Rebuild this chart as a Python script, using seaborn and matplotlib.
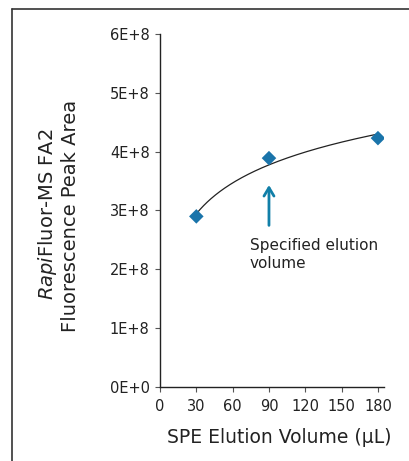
import numpy as np
import pandas as pd
import seaborn as sns
import matplotlib
matplotlib.use("Agg")
import matplotlib.pyplot as plt
from matplotlib.lines import Line2D

# data
volumes = [30, 90, 180]
peak_area = [2.90e8, 3.89e8, 4.23e8]
x_ticks = [0, 30, 60, 90, 120, 150, 180]
y_ticks = [0, 1e8, 2e8, 3e8, 4e8, 5e8, 6e8]
y_tick_labels = ["0E+0", "1E+8", "2E+8", "3E+8", "4E+8", "5E+8", "6E+8"]
arrow_x = 90
annotation = "Specified elution\nvolume"

sns.set_theme(style="white")
plt.rcParams['font.family'] = ['DejaVu Sans']
plt.rcParams['mathtext.fontset'] = 'dejavusans'

fig = plt.figure(figsize=(4.09, 4.61), dpi=100)
ax = fig.add_axes([160/409, 1-387/461, (384-160)/409, (387-34)/461])

df = pd.DataFrame({"vol": volumes, "area": peak_area})

# logarithmic trendline fitted to the data
coef = np.polyfit(np.log(df["vol"]), df["area"], 1)
xs = np.linspace(min(volumes), max(volumes), 200)
trend = pd.DataFrame({"vol": xs, "area": coef[0]*np.log(xs) + coef[1]})
sns.lineplot(data=trend, x="vol", y="area", ax=ax, color="#222222", lw=0.9, zorder=2)

sns.scatterplot(data=df, x="vol", y="area", ax=ax, marker="D", s=55,
                color="#1a74aa", edgecolor="none", zorder=3)

ax.set_xlim(0, 185)
ax.set_ylim(0, 6e8)
ax.set_xticks(x_ticks)
ax.set_yticks(y_ticks)
ax.set_yticklabels(y_tick_labels)
for s in ["top", "right"]:
    ax.spines[s].set_visible(False)
for s in ["left", "bottom"]:
    ax.spines[s].set_color("#222222")
    ax.spines[s].set_linewidth(1.0)
ax.tick_params(axis="both", which="major", direction="out", length=3.5,
               width=0.8, color="#555555", labelsize=10.5, labelcolor="#222222",
               bottom=True, left=True)
ax.tick_params(axis="x", pad=5)
ax.tick_params(axis="y", pad=4)

ax.set_xlabel("SPE Elution Volume (µL)", fontsize=13.5, color="#222222", labelpad=7)
ax.xaxis.set_label_coords((279-160)/224, -0.115)
ax.set_ylabel("")
fig.text(48/409, 1-214/461, r"$\mathit{Rapi}$Fluor-MS FA2", rotation=90,
         ha="center", va="center", fontsize=14, color="#222222")
fig.text(70/409, 1-216/461, "Fluorescence Peak Area", rotation=90,
         ha="center", va="center", fontsize=14, color="#222222")

ax.annotate("", xy=(arrow_x, 3.48e8), xytext=(arrow_x, 2.70e8),
            arrowprops=dict(arrowstyle="->,head_length=0.5,head_width=0.3",
                            color="#117fa8", lw=2))
ax.text(74, 2.54e8, annotation, fontsize=11, color="#222222",
        ha="left", va="top", linespacing=1.3)

# outer frame lines
fig.add_artist(Line2D([12/409, 1.0], [1-9/461, 1-9/461], transform=fig.transFigure,
                      color="#333333", lw=1.2))
fig.add_artist(Line2D([12/409, 12/409], [1-9/461, 0.0], transform=fig.transFigure,
                      color="#333333", lw=1.2))

fig.savefig("out.png", dpi=100, facecolor="white")
